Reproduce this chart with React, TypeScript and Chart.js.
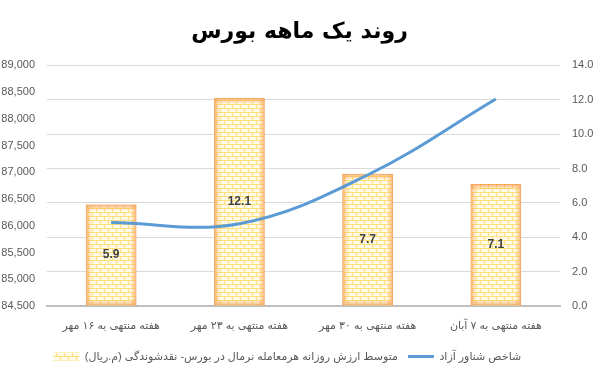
import React, { useEffect, useRef } from "react";
import { Chart, registerables } from "chart.js";

Chart.register(...registerables);

const titleText = "روند یک ماهه بورس";
const categories = [
  "هفته منتهی به ۱۶ مهر",
  "هفته منتهی به ۲۳ مهر",
  "هفته منتهی به ۳۰ مهر",
  "هفته منتهی به ۷ آبان",
];
const barLabel = "متوسط ارزش روزانه هرمعامله نرمال در بورس- نقدشوندگی (م.ریال)";
const lineLabel = "شاخص شناور آزاد";
const barValues = [5.9, 12.1, 7.7, 7.1];
const lineValues = [86060, 86040, 86950, 88370];
const leftMin = 84500;
const leftMax = 89000;
const leftStep = 500;
const rightMin = 0;
const rightMax = 14;
const rightStep = 2;

const RLM = "\u200F";
const FONT = "'Liberation Sans', 'DejaVu Sans', sans-serif";
const TEXT_COLOR = "#595959";

function makeBrickPattern(): CanvasPattern | string {
  const c = document.createElement("canvas");
  c.width = 8;
  c.height = 8;
  const g = c.getContext("2d");
  if (!g) return "#FFF2CC";
  g.fillStyle = "#FFFAE8";
  g.fillRect(0, 0, 8, 8);
  g.fillStyle = "#FFDF7A";
  g.fillRect(0, 0, 8, 1);
  g.fillRect(0, 4, 8, 1);
  g.fillRect(0, 0, 1, 4);
  g.fillRect(4, 4, 1, 4);
  const p = g.createPattern(c, "repeat");
  return p || "#FFF2CC";
}

const barDecorPlugin = {
  id: "barDecor",
  afterDatasetDraw(chart: any, args: any) {
    if (args.index !== 0) return;
    const meta = chart.getDatasetMeta(0);
    const ctx = chart.ctx as CanvasRenderingContext2D;
    meta.data.forEach((el: any, i: number) => {
      const left = el.x - el.width / 2;
      const right = el.x + el.width / 2;
      const top = Math.min(el.y, el.base);
      const bottom = Math.max(el.y, el.base);
      const w = right - left;
      const h = bottom - top;
      const t = 6;
      ctx.save();
      ctx.beginPath();
      ctx.rect(left, top, w, h);
      ctx.clip();
      const edge = "rgba(245,165,90,0.8)";
      const clear = "rgba(245,165,90,0)";
      let g = ctx.createLinearGradient(left, 0, left + t, 0);
      g.addColorStop(0, edge);
      g.addColorStop(1, clear);
      ctx.fillStyle = g;
      ctx.fillRect(left, top, t, h);
      g = ctx.createLinearGradient(right, 0, right - t, 0);
      g.addColorStop(0, edge);
      g.addColorStop(1, clear);
      ctx.fillStyle = g;
      ctx.fillRect(right - t, top, t, h);
      g = ctx.createLinearGradient(0, top, 0, top + t);
      g.addColorStop(0, edge);
      g.addColorStop(1, clear);
      ctx.fillStyle = g;
      ctx.fillRect(left, top, w, t);
      g = ctx.createLinearGradient(0, bottom, 0, bottom - t);
      g.addColorStop(0, edge);
      g.addColorStop(1, clear);
      ctx.fillStyle = g;
      ctx.fillRect(left, bottom - t, w, t);
      ctx.restore();

      ctx.save();
      ctx.fillStyle = "#404040";
      ctx.font = `bold 12px ${FONT}`;
      ctx.textAlign = "center";
      ctx.textBaseline = "middle";
      ctx.fillText(barValues[i].toFixed(1), el.x, (top + bottom) / 2);
      ctx.restore();
    });
  },
};

export default function App() {
  const ref = useRef<HTMLCanvasElement | null>(null);

  useEffect(() => {
    document.body.style.margin = "0";
    const canvas = ref.current;
    if (!canvas) return;
    const pattern = makeBrickPattern();
    const chart = new Chart(canvas, {
      type: "bar",
      data: {
        labels: categories.map((c) => RLM + c + RLM),
        datasets: [
          {
            type: "bar",
            label: RLM + barLabel + RLM,
            data: barValues,
            yAxisID: "yR",
            backgroundColor: pattern as any,
            borderColor: "#F6B26B",
            borderWidth: 1,
            barPercentage: 0.79,
            categoryPercentage: 0.5,
            order: 1,
          },
          {
            type: "line",
            label: RLM + lineLabel + RLM + "        ",
            data: lineValues,
            yAxisID: "yL",
            borderColor: "#5B9BD5",
            backgroundColor: "#5B9BD5",
            borderWidth: 3,
            pointRadius: 0,
            pointStyle: "line",
            tension: 0.38,
            fill: false,
            order: 0,
          } as any,
        ],
      },
      options: {
        responsive: false,
        animation: false,
        layout: { padding: { top: 0, bottom: 0, left: 0, right: 0 } },
        plugins: {
          tooltip: { enabled: false },
          title: {
            display: true,
            text: RLM + titleText + RLM,
            color: "#000000",
            font: { family: "'DejaVu Sans', sans-serif", size: 22, weight: "bold" },
            padding: { top: 19, bottom: 20 },
          },
          legend: {
            display: true,
            position: "bottom",
            labels: {
              color: TEXT_COLOR,
              font: { family: FONT, size: 11 },
              usePointStyle: true,
              pointStyleWidth: 26,
              boxHeight: 8,
              padding: 10,
              generateLabels(chart: any) {
                const items = Chart.defaults.plugins.legend.labels.generateLabels(chart);
                items.sort((a: any, b: any) => a.datasetIndex - b.datasetIndex);
                items.forEach((it: any) => {
                  if (it.datasetIndex === 0) {
                    it.pointStyle = "rect";
                    it.lineWidth = 0;
                    it.strokeStyle = "rgba(0,0,0,0)";
                  } else {
                    it.pointStyle = "line";
                    it.lineWidth = 3;
                    it.strokeStyle = "#5B9BD5";
                  }
                });
                return items;
              },
            },
          },
        },
        scales: {
          x: {
            grid: { display: false },
            border: { display: true, color: "#BFBFBF", width: 2 },
            afterFit(scale: any) {
              scale.height = 35;
            },
            ticks: {
              color: TEXT_COLOR,
              font: { family: FONT, size: 11 },
              maxRotation: 0,
              padding: 5,
            },
          },
          yL: {
            type: "linear",
            position: "left",
            min: leftMin,
            max: leftMax,
            grid: { display: false, drawTicks: false },
            border: { display: false },
            afterFit(scale: any) {
              scale.width = 47;
            },
            ticks: {
              stepSize: leftStep,
              color: TEXT_COLOR,
              font: { family: FONT, size: 11 },
              padding: 12,
              callback: (v: any) => Number(v).toLocaleString("en-US"),
            },
          },
          yR: {
            type: "linear",
            position: "right",
            min: rightMin,
            max: rightMax,
            grid: { display: true, color: "#D9D9D9", drawTicks: false },
            border: { display: false },
            afterFit(scale: any) {
              scale.width = 39;
            },
            ticks: {
              stepSize: rightStep,
              color: TEXT_COLOR,
              font: { family: FONT, size: 11 },
              padding: 12,
              callback: (v: any) => Number(v).toFixed(1),
            },
          },
        },
      } as any,
      plugins: [barDecorPlugin],
    });
    return () => chart.destroy();
  }, []);

  return (
    <div style={{ width: 599, height: 372, background: "#ffffff" }}>
      <canvas ref={ref} width={599} height={372} style={{ display: "block" }} />
    </div>
  );
}
